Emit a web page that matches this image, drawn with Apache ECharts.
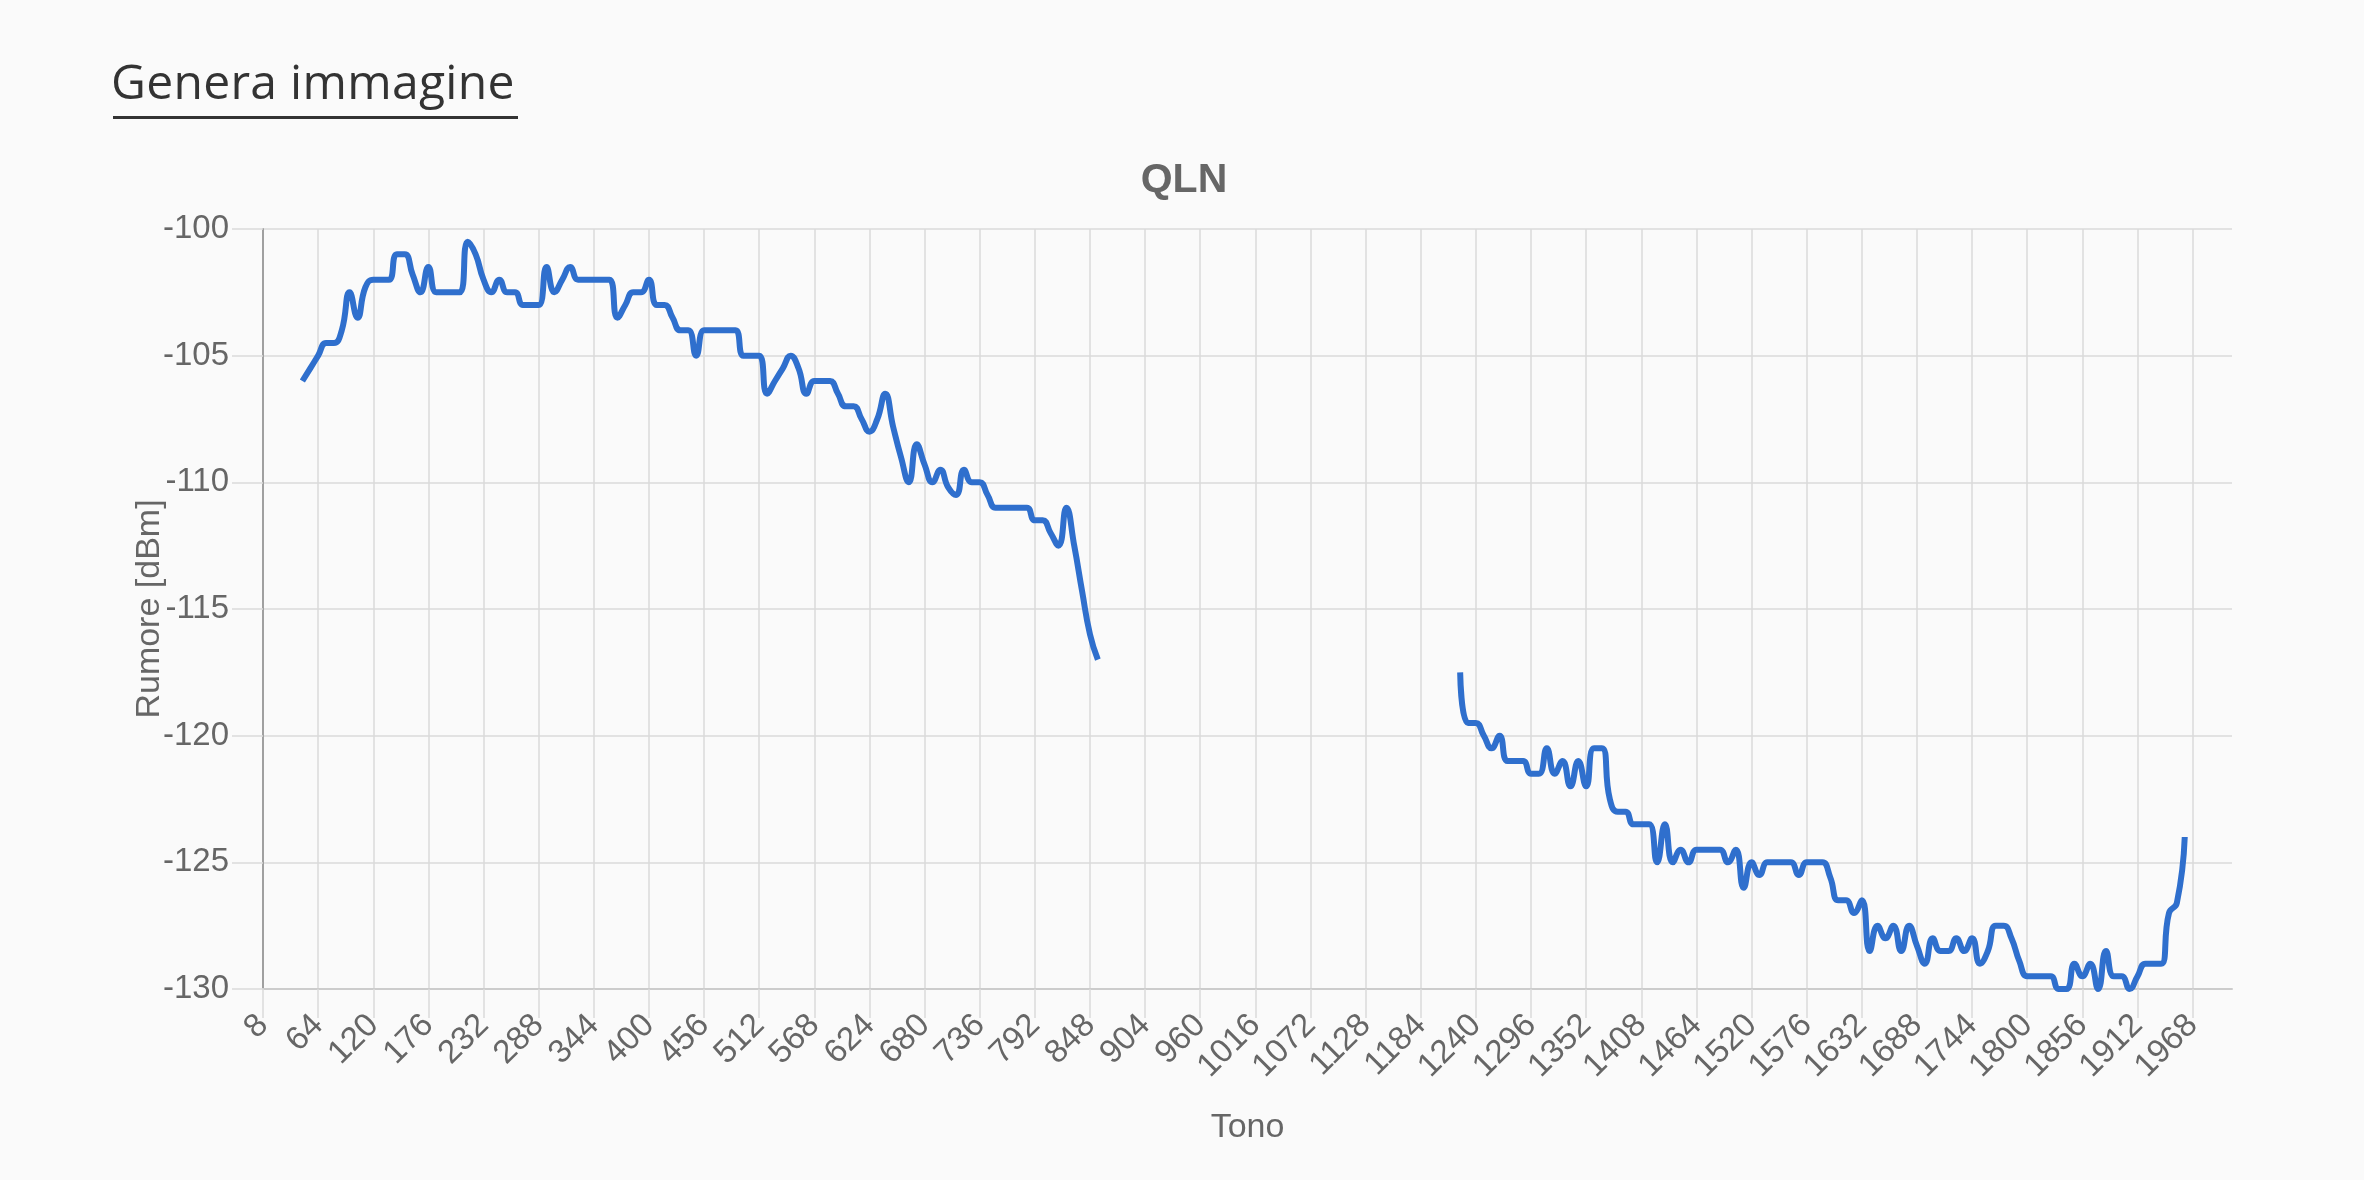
<!DOCTYPE html>
<html>
<head>
<meta charset="utf-8">
<script src="https://cdn.jsdelivr.net/npm/echarts@6/dist/echarts.min.js"></script>
<style>
  html, body { margin: 0; padding: 0; background: #fafafa; }
  #chart { position: absolute; left: 0; top: 0; width: 2364px; height: 1180px; }
  #gen { position: absolute; left: 111px; top: 57px; font-family: "Open Sans", sans-serif; font-size: 48px; line-height: 48px; color: #333; z-index: 2; white-space: nowrap; letter-spacing: 0.3px; }
  #genLine { position: absolute; left: 113px; top: 116px; width: 405px; height: 3px; background: #333; z-index: 2; }
</style>
</head>
<body>
<div id="chart"></div>
<div id="gen">Genera immagine</div>
<div id="genLine"></div>
<script>
// Category axis: tone numbers
const tones = [8,16,24,32,40,48,56,64,72,80,88,96,104,112,120,128,136,144,152,160,168,176,184,192,200,208,216,224,232,240,248,256,264,272,280,288,296,304,312,320,328,336,344,352,360,368,376,384,392,400,408,416,424,432,440,448,456,464,472,480,488,496,504,512,520,528,536,544,552,560,568,576,584,592,600,608,616,624,632,640,648,656,664,672,680,688,696,704,712,720,728,736,744,752,760,768,776,784,792,800,808,816,824,832,840,848,856,864,872,880,888,896,904,912,920,928,936,944,952,960,968,976,984,992,1000,1008,1016,1024,1032,1040,1048,1056,1064,1072,1080,1088,1096,1104,1112,1120,1128,1136,1144,1152,1160,1168,1176,1184,1192,1200,1208,1216,1224,1232,1240,1248,1256,1264,1272,1280,1288,1296,1304,1312,1320,1328,1336,1344,1352,1360,1368,1376,1384,1392,1400,1408,1416,1424,1432,1440,1448,1456,1464,1472,1480,1488,1496,1504,1512,1520,1528,1536,1544,1552,1560,1568,1576,1584,1592,1600,1608,1616,1624,1632,1640,1648,1656,1664,1672,1680,1688,1696,1704,1712,1720,1728,1736,1744,1752,1760,1768,1776,1784,1792,1800,1808,1816,1824,1832,1840,1848,1856,1864,1872,1880,1888,1896,1904,1912,1920,1928,1936,1944,1952,1960,1968,1976,1984,1992,2000,2008];

// Y axis ticks
const yTicks = [-130, -125, -120, -115, -110, -105, -100];

// Band 1: tones 48 .. 856
const band1Start = 48;
const band1Values = [
  -106, -105.5, -105, -104.5, -104.5, -104, -102.5, -103.5, -102.3, -102,
  -102, -102, -101, -101, -101.8, -102.5, -101.5, -102.5, -102.5, -102.5,
  -102.5, -100.5, -101, -102, -102.5, -102, -102.5, -102.5, -103, -103,
  -103, -101.5, -102.5, -102, -101.5, -102, -102, -102, -102, -102,
  -103.5, -103, -102.5, -102.5, -102, -103, -103, -103.5, -104, -104,
  -105, -104, -104, -104, -104, -104, -105, -105, -105, -106.5,
  -106, -105.5, -105, -105.5, -106.5, -106, -106, -106, -106.5, -107,
  -107, -107.5, -108, -107.5, -106.5, -107.8, -109, -110, -108.5, -109.3,
  -110, -109.5, -110.2, -110.5, -109.5, -110, -110, -110.5, -111, -111,
  -111, -111, -111, -111.5, -111.5, -112, -112.5, -111, -112.5, -114.3,
  -116, -117
];

// Band 2: tones 1224 .. 1960
const band2Start = 1224;
const band2Values = [
  -117.5, -119.5, -119.5, -120, -120.5, -120, -121, -121, -121, -121.5,
  -121.5, -120.5, -121.5, -121, -122, -121, -122, -120.5, -120.5, -122.5,
  -123, -123, -123.5, -123.5, -123.5, -125, -123.5, -125, -124.5, -125,
  -124.5, -124.5, -124.5, -124.5, -125, -124.5, -126, -125, -125.5, -125,
  -125, -125, -125, -125.5, -125, -125, -125, -125.6, -126.5, -126.5,
  -127, -126.5, -128.5, -127.5, -128, -127.5, -128.5, -127.5, -128.3, -129,
  -128, -128.5, -128.5, -128, -128.5, -128, -129, -128.5, -127.5, -127.5,
  -128, -128.9, -129.5, -129.5, -129.5, -129.5, -130, -130, -129, -129.5,
  -129, -130, -128.5, -129.5, -129.5, -130, -129.5, -129, -129, -129,
  -127, -126.6, -124
];

const lookup = {};
band1Values.forEach((v, i) => { lookup[tones[tones.indexOf(band1Start) + i]] = v; });
band2Values.forEach((v, i) => { lookup[tones[tones.indexOf(band2Start) + i]] = v; });
const seriesData = tones.map(t => (t in lookup ? lookup[t] : null));

const FONT = '"Liberation Sans", Arial, Helvetica, sans-serif';
const GRID = '#dadada';
const TXT = '#666666';

const chart = echarts.init(document.getElementById('chart'), null, { renderer: 'canvas' });
chart.setOption({
  animation: false,
  backgroundColor: 'transparent',
  textStyle: { fontFamily: FONT },
  title: {
    text: 'QLN', left: 1184, top: 160, textAlign: 'center', padding: 0,
    textStyle: { fontSize: 41, fontWeight: 'bold', color: TXT, fontFamily: FONT }
  },
  grid: { left: 263, right: 132, top: 229, bottom: 191, containLabel: false },
  xAxis: {
    type: 'category',
    data: tones.map(String),
    boundaryGap: false,
    name: 'Tono', nameLocation: 'middle', nameGap: 122, nameMoveOverlap: false,
    nameTextStyle: { fontSize: 34, color: TXT, fontFamily: FONT },
    axisLine: { show: true, onZero: false, lineStyle: { color: '#cccccc', width: 2 } },
    axisTick: { show: true, interval: 6, length: 29, lineStyle: { color: GRID, width: 1.5 } },
    axisLabel: { interval: 6, rotate: 45, margin: 31, fontSize: 33, color: TXT, fontFamily: FONT },
    splitLine: { show: true, interval: 6, lineStyle: { color: GRID, width: 1.5 } }
  },
  yAxis: {
    type: 'value',
    min: yTicks[0], max: yTicks[yTicks.length - 1], interval: 5,
    name: 'Rumore [dBm]', nameLocation: 'middle', nameGap: 96, nameMoveOverlap: false,
    nameTextStyle: { fontSize: 34, color: TXT, fontFamily: FONT },
    axisLine: { show: true, lineStyle: { color: '#a0a0a0', width: 2 } },
    axisTick: { show: true, length: 31, lineStyle: { color: GRID, width: 1.5 } },
    axisLabel: { margin: 34, fontSize: 33, color: TXT, fontFamily: FONT },
    splitLine: { show: true, lineStyle: { color: GRID, width: 1.5 } }
  },
  series: [{
    type: 'line',
    data: seriesData,
    smooth: 0.5,
    showSymbol: false,
    connectNulls: false,
    lineStyle: { color: '#2f6fcd', width: 6 },
    itemStyle: { color: '#2f6fcd' }
  }]
});
</script>
</body>
</html>
